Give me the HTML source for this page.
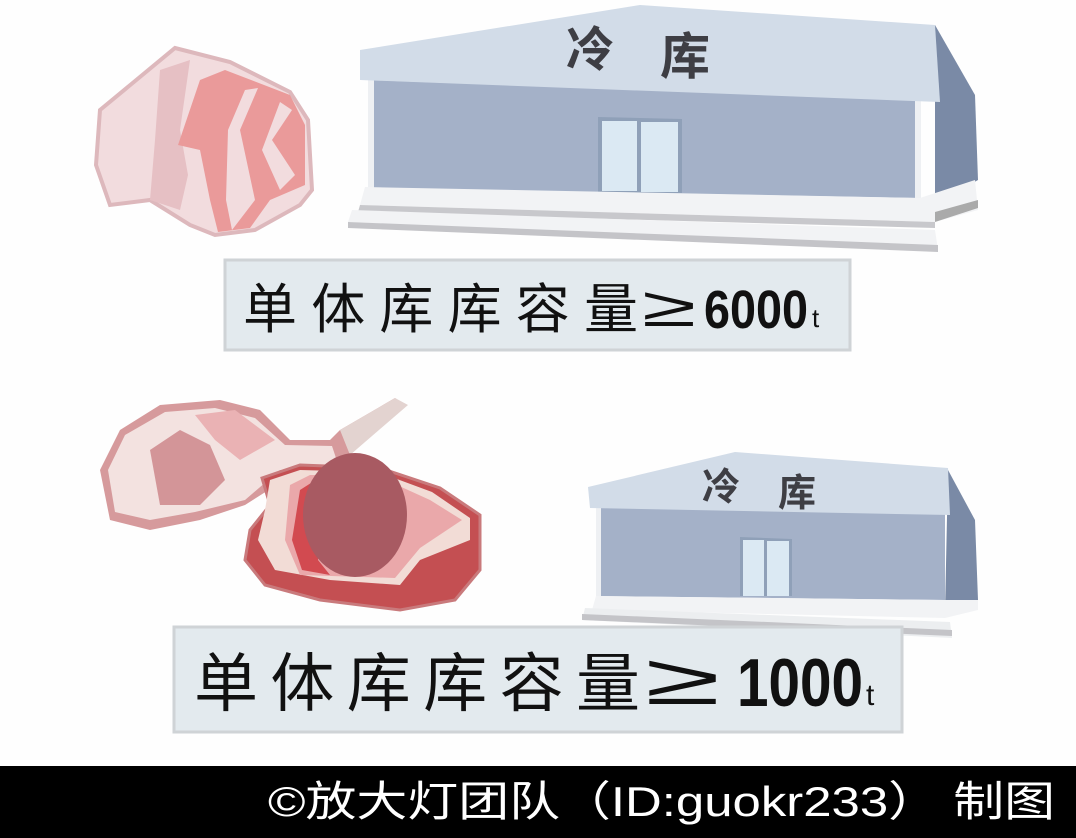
<!DOCTYPE html>
<html><head><meta charset="utf-8"><style>
html,body{margin:0;padding:0;background:#fff;}
svg{display:block}
text{font-family:"Liberation Sans","Noto Sans CJK SC",sans-serif;}
</style></head><body>
<svg width="1076" height="838" viewBox="0 0 1076 838" xmlns="http://www.w3.org/2000/svg">
<rect width="1076" height="838" fill="#fefefe"/>
<!-- top meat -->
<path d="M100,110 L175,48 L230,62 L290,92 L308,120 L312,190 L300,205 L255,230 L215,235 L190,225 L150,200 L110,205 L96,165 Z" fill="#f2dcde" stroke="#ddb8bc" stroke-width="4"/>
<path d="M160,70 L190,60 L180,130 L188,175 L180,210 L150,200 L155,140 Z" fill="#e6c0c4"/>
<path d="M200,80 L225,70 L290,95 L305,125 L305,185 L270,200 L250,228 L218,232 L210,200 L200,150 L178,145 Z" fill="#ea9a9a"/>
<path d="M245,90 L258,88 L240,130 L255,200 L232,230 L226,200 L228,130 Z" fill="#f2dcde"/>
<path d="M280,102 L292,110 L272,140 L295,175 L280,190 L262,150 Z" fill="#f2dcde"/>
<!-- building 1 -->
<polygon points="935,25 975,95 978,180 935,205" fill="#7a8aa6"/>
<polygon points="368,80 920,100 920,198 368,188" fill="#a4b1c8"/>
<rect x="368" y="80" width="6" height="110" fill="#eef0f3"/>
<rect x="915" y="100" width="6" height="100" fill="#eef0f3"/>
<polygon points="360,50 640,5 935,25 940,102 360,80" fill="#d2dce8"/>
<polygon points="598,117 682,119 682,193 598,192" fill="#8fa0b8"/>
<rect x="602" y="121" width="35" height="70" fill="#dbe9f3"/>
<rect x="641" y="122" width="37" height="70" fill="#dbe9f3"/>
<polygon points="365,187 920,198 975,180 978,210 935,222 360,205" fill="#f2f3f5"/>
<polygon points="360,205 935,222 935,228 358,212" fill="#c8c8cc"/>
<polygon points="352,210 935,230 938,250 348,222" fill="#f2f3f5"/>
<polygon points="348,222 938,245 938,252 348,228" fill="#c4c4c8"/>
<polygon points="935,222 978,208 978,200 935,212" fill="#aaa"/>
<text x="566" y="66" font-size="48" font-weight="bold" fill="#3e3e44">冷</text>
<text x="660" y="74" font-size="50" font-weight="bold" fill="#3e3e44">库</text>
<!-- label 1 -->
<rect x="225" y="260" width="625" height="90" fill="#e3eaee" stroke="#cfd3d6" stroke-width="3"/>
<text x="243" y="328" font-size="54" fill="#111" textLength="395" lengthAdjust="spacing">单体库库容量</text>
<text x="642" y="326" font-size="56" fill="#111" textLength="54" lengthAdjust="spacingAndGlyphs">≥</text>
<text x="704" y="328" font-size="54" font-weight="bold" fill="#111" textLength="104" lengthAdjust="spacingAndGlyphs">6000</text>
<text x="812" y="327" font-size="26" fill="#111">t</text>
<!-- bottom meat back chop -->
<path d="M100,470 L120,430 L160,405 L220,400 L260,410 L290,440 L330,440 L340,430 L395,398 L405,405 L350,455 L345,480 L300,470 L245,505 L200,520 L150,530 L110,520 Z" fill="#d69a9c"/>
<path d="M340,430 L395,398 L408,405 L350,455 Z" fill="#e3d3d0"/>
<path d="M108,470 L125,435 L165,412 L215,408 L255,418 L285,445 L332,446 L340,470 L280,470 L245,500 L195,512 L150,520 L115,512 Z" fill="#f3e2e0"/>
<path d="M150,450 L180,430 L210,445 L225,480 L200,505 L160,505 Z" fill="#d39598"/>
<path d="M195,415 L235,410 L275,440 L240,460 L215,440 Z" fill="#eab2b4"/>
<!-- front chop -->
<path d="M262,478 L300,465 L380,468 L440,488 L480,515 L480,570 L455,600 L400,610 L320,600 L265,585 L245,560 L250,530 L270,505 Z" fill="#c44f52" stroke="#c97a7c" stroke-width="3"/>
<path d="M270,480 L300,470 L378,472 L432,492 L470,518 L470,540 L420,560 L400,585 L330,580 L275,570 L258,540 L265,510 Z" fill="#f2dcd6"/>
<path d="M290,485 L310,475 L375,475 L430,500 L462,520 L420,548 L395,578 L300,575 L285,540 Z" fill="#eaa8aa"/>
<path d="M300,490 L325,474 L340,474 L320,500 L318,560 L330,575 L302,570 L292,540 Z" fill="#d24a50"/>
<ellipse cx="355" cy="515" rx="52" ry="62" fill="#a85a62"/>
<!-- building 2 -->
<polygon points="948,470 975,520 978,600 945,612" fill="#7a8aa6"/>
<polygon points="596,505 945,512 945,600 596,596" fill="#a4b1c8"/>
<rect x="596" y="505" width="5" height="92" fill="#eef0f3"/>
<polygon points="588,487 735,452 948,468 950,515 590,508" fill="#d2dce8"/>
<polygon points="740,537 792,539 792,596 740,596" fill="#8fa0b8"/>
<rect x="743" y="540" width="21" height="56" fill="#dbe9f3"/>
<rect x="767" y="541" width="22" height="55" fill="#dbe9f3"/>
<polygon points="596,596 945,600 978,600 978,610 945,618 592,610" fill="#f2f3f5"/>
<polygon points="585,608 950,622 952,638 582,620" fill="#eceef0"/>
<polygon points="582,614 952,630 952,636 582,620" fill="#c4c4c8"/>
<text x="702" y="500" font-size="38" font-weight="bold" fill="#3e3e44">冷</text>
<text x="778" y="506" font-size="38" font-weight="bold" fill="#3e3e44">库</text>
<!-- label 2 -->
<rect x="174" y="627" width="728" height="105" fill="#e3eaee" stroke="#cfd3d6" stroke-width="3"/>
<text x="194" y="706" font-size="64" fill="#111" textLength="446" lengthAdjust="spacing">单体库库容量</text>
<text x="645" y="704" font-size="72" fill="#111" textLength="75" lengthAdjust="spacingAndGlyphs">≥</text>
<text x="737" y="706" font-size="68" font-weight="bold" fill="#111" textLength="126" lengthAdjust="spacingAndGlyphs">1000</text>
<text x="866" y="705" font-size="30" fill="#111">t</text>
<!-- footer -->
<rect x="0" y="766" width="1076" height="72" fill="#000"/>
<text x="268" y="816" font-size="42" fill="#fff" textLength="787" lengthAdjust="spacingAndGlyphs">©放大灯团队（ID:guokr233） 制图</text>
</svg>
</body></html>
